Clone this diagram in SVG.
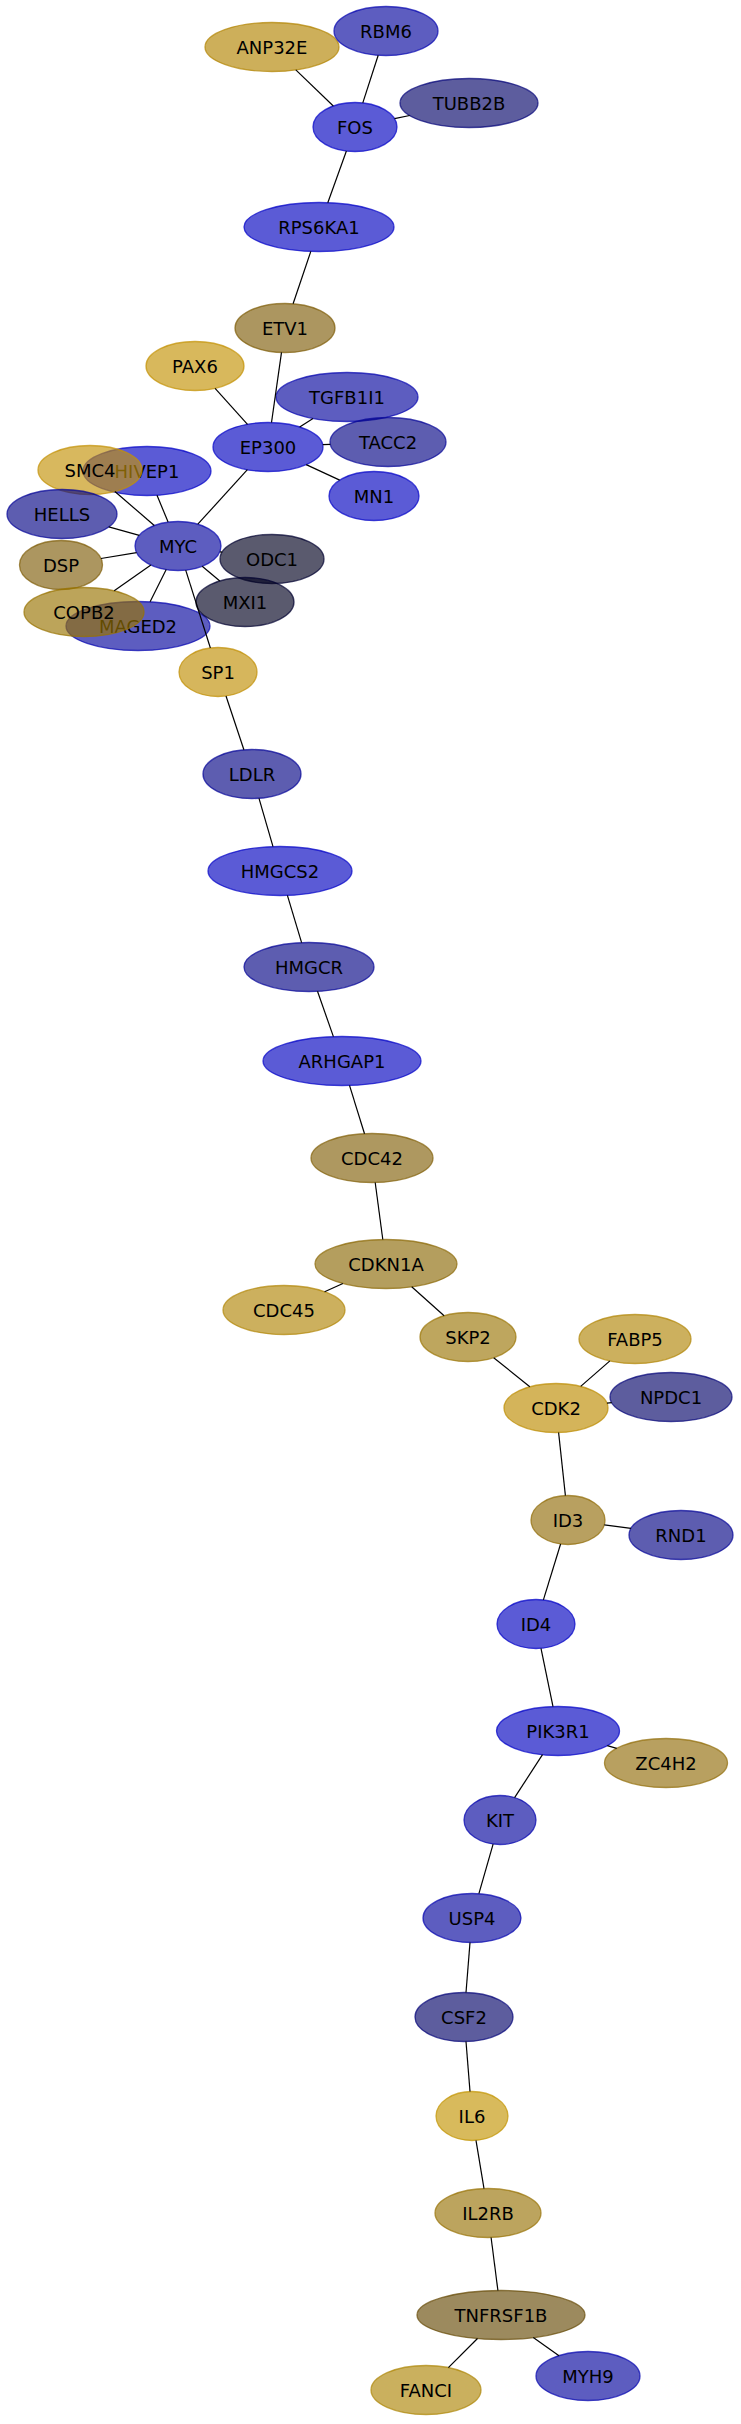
<svg xmlns="http://www.w3.org/2000/svg" width="741" height="2424" viewBox="0 0 741 2424">
<style>
ellipse { fill-opacity: 0.65; stroke-opacity: 0.72; stroke-width: 1.3; }
text { font-family: "DejaVu Sans", "Liberation Sans", sans-serif; font-size: 18px; text-anchor: middle; fill: #000; }
#edges line { stroke: #000; stroke-width: 1.2; }
.b1 { fill: #0303c0; stroke: #0303c8; }
.b2 { fill: #06069e; stroke: #0606b0; }
.b2b { fill: #060686; stroke: #060698; }
.b3 { fill: #06066a; stroke: #06067a; }
.gr { fill: #010120; stroke: #010130; }
</style>
<rect width="741" height="2424" fill="#fff"/>
<g id="ANP32E"><ellipse cx="272" cy="47" rx="67" ry="24.5" fill="#b28401" stroke="#b28401"/><text x="272" y="53.5">ANP32E</text></g>
<g id="RBM6"><ellipse class="b2" cx="386" cy="31" rx="52" ry="24.5"/><text x="386" y="37.5">RBM6</text></g>
<g id="TUBB2B"><ellipse class="b3" cx="469" cy="103" rx="69" ry="24.5"/><text x="469" y="109.5">TUBB2B</text></g>
<g id="FOS"><ellipse class="b1" cx="355" cy="127" rx="42" ry="24.5"/><text x="355" y="133.5">FOS</text></g>
<g id="RPS6KA1"><ellipse class="b1" cx="319" cy="227" rx="75" ry="24.5"/><text x="319" y="233.5">RPS6KA1</text></g>
<g id="ETV1"><ellipse cx="285" cy="328" rx="50" ry="24.5" fill="#7f5e0a" stroke="#7f5e0a"/><text x="285" y="334.5">ETV1</text></g>
<g id="PAX6"><ellipse cx="195" cy="366" rx="49" ry="24.5" fill="#c39204" stroke="#c39204"/><text x="195" y="372.5">PAX6</text></g>
<g id="TGFB1I1"><ellipse class="b2" cx="347" cy="397" rx="71" ry="24.5"/><text x="347" y="403.5">TGFB1I1</text></g>
<g id="EP300"><ellipse class="b1" cx="268" cy="447" rx="55" ry="24.5"/><text x="268" y="453.5">EP300</text></g>
<g id="TACC2"><ellipse class="b2b" cx="388" cy="442" rx="58" ry="24.5"/><text x="388" y="448.5">TACC2</text></g>
<g id="MN1"><ellipse class="b1" cx="374" cy="496" rx="45" ry="24.5"/><text x="374" y="502.5">MN1</text></g>
<g id="HIVEP1"><ellipse class="b1" cx="147" cy="471" rx="64" ry="24.5"/><text x="147" y="477.5">HIVEP1</text></g>
<g id="SMC4"><ellipse cx="90" cy="470" rx="52" ry="24.5" fill="#c39207" stroke="#c39207"/><text x="90" y="476.5">SMC4</text></g>
<g id="HELLS"><ellipse class="b2b" cx="62" cy="514" rx="55" ry="24.5"/><text x="62" y="520.5">HELLS</text></g>
<g id="MYC"><ellipse class="b2" cx="178" cy="546" rx="43" ry="24.5"/><text x="178" y="552.5">MYC</text></g>
<g id="DSP"><ellipse cx="61" cy="565" rx="41.5" ry="24.5" fill="#7f5e0a" stroke="#7f5e0a"/><text x="61" y="571.5">DSP</text></g>
<g id="ODC1"><ellipse class="gr" cx="272" cy="559" rx="52" ry="24.5"/><text x="272" y="565.5">ODC1</text></g>
<g id="MAGED2"><ellipse class="b2" cx="138" cy="626" rx="72" ry="24.5"/><text x="138" y="632.5">MAGED2</text></g>
<g id="COPB2"><ellipse cx="84" cy="612" rx="60" ry="24.5" fill="#987301" stroke="#987301"/><text x="84" y="618.5">COPB2</text></g>
<g id="MXI1"><ellipse class="gr" cx="245" cy="602" rx="49" ry="24.5"/><text x="245" y="608.5">MXI1</text></g>
<g id="SP1"><ellipse cx="218" cy="672" rx="39" ry="24.5" fill="#c08f04" stroke="#c08f04"/><text x="218" y="678.5">SP1</text></g>
<g id="LDLR"><ellipse class="b2b" cx="252" cy="774" rx="49" ry="24.5"/><text x="252" y="780.5">LDLR</text></g>
<g id="HMGCS2"><ellipse class="b1" cx="280" cy="871" rx="72" ry="24.5"/><text x="280" y="877.5">HMGCS2</text></g>
<g id="HMGCR"><ellipse class="b2b" cx="309" cy="967" rx="65" ry="24.5"/><text x="309" y="973.5">HMGCR</text></g>
<g id="ARHGAP1"><ellipse class="b1" cx="342" cy="1061" rx="79" ry="24.5"/><text x="342" y="1067.5">ARHGAP1</text></g>
<g id="CDC42"><ellipse cx="372" cy="1158" rx="61" ry="24.5" fill="#82610a" stroke="#82610a"/><text x="372" y="1164.5">CDC42</text></g>
<g id="CDKN1A"><ellipse cx="386" cy="1264" rx="71" ry="24.5" fill="#8c6a07" stroke="#8c6a07"/><text x="386" y="1270.5">CDKN1A</text></g>
<g id="CDC45"><ellipse cx="284" cy="1310" rx="61" ry="24.5" fill="#b18607" stroke="#b18607"/><text x="284" y="1316.5">CDC45</text></g>
<g id="SKP2"><ellipse cx="468" cy="1337" rx="48" ry="24.5" fill="#9b7607" stroke="#9b7607"/><text x="468" y="1343.5">SKP2</text></g>
<g id="FABP5"><ellipse cx="635" cy="1339" rx="56" ry="24.5" fill="#b18607" stroke="#b18607"/><text x="635" y="1345.5">FABP5</text></g>
<g id="CDK2"><ellipse cx="556" cy="1408" rx="52" ry="24.5" fill="#bd8c01" stroke="#bd8c01"/><text x="556" y="1414.5">CDK2</text></g>
<g id="NPDC1"><ellipse class="b3" cx="671" cy="1397" rx="61" ry="24.5"/><text x="671" y="1403.5">NPDC1</text></g>
<g id="ID3"><ellipse cx="568" cy="1520" rx="37" ry="24.5" fill="#926d0a" stroke="#926d0a"/><text x="568" y="1526.5">ID3</text></g>
<g id="RND1"><ellipse class="b2b" cx="681" cy="1535" rx="52" ry="24.5"/><text x="681" y="1541.5">RND1</text></g>
<g id="ID4"><ellipse class="b1" cx="536" cy="1624" rx="39" ry="24.5"/><text x="536" y="1630.5">ID4</text></g>
<g id="PIK3R1"><ellipse class="b1" cx="558" cy="1731" rx="61.5" ry="24.5"/><text x="558" y="1737.5">PIK3R1</text></g>
<g id="ZC4H2"><ellipse cx="666" cy="1763" rx="61.5" ry="24.5" fill="#926d0a" stroke="#926d0a"/><text x="666" y="1769.5">ZC4H2</text></g>
<g id="KIT"><ellipse class="b2" cx="500" cy="1820" rx="36" ry="24.5"/><text x="500" y="1826.5">KIT</text></g>
<g id="USP4"><ellipse class="b2" cx="472" cy="1918" rx="49" ry="24.5"/><text x="472" y="1924.5">USP4</text></g>
<g id="CSF2"><ellipse class="b3" cx="464" cy="2017" rx="49" ry="24.5"/><text x="464" y="2023.5">CSF2</text></g>
<g id="IL6"><ellipse cx="472" cy="2116" rx="36" ry="24.5" fill="#c39504" stroke="#c39504"/><text x="472" y="2122.5">IL6</text></g>
<g id="IL2RB"><ellipse cx="488" cy="2213" rx="53" ry="24.5" fill="#987307" stroke="#987307"/><text x="488" y="2219.5">IL2RB</text></g>
<g id="TNFRSF1B"><ellipse cx="501" cy="2315" rx="84" ry="24.5" fill="#674b07" stroke="#674b07"/><text x="501" y="2321.5">TNFRSF1B</text></g>
<g id="FANCI"><ellipse cx="426" cy="2390" rx="55" ry="24.5" fill="#ad8607" stroke="#ad8607"/><text x="426" y="2396.5">FANCI</text></g>
<g id="MYH9"><ellipse class="b2" cx="588" cy="2376" rx="52" ry="24.5"/><text x="588" y="2382.5">MYH9</text></g>
<g id="edges">
<line x1="295.8" y1="69.9" x2="333.3" y2="106.0"/>
<line x1="378.2" y1="55.2" x2="362.8" y2="102.9"/>
<line x1="409.7" y1="115.5" x2="394.5" y2="118.7"/>
<line x1="346.4" y1="151.0" x2="327.8" y2="202.7"/>
<line x1="310.8" y1="251.4" x2="293.1" y2="303.8"/>
<line x1="281.5" y1="352.4" x2="271.5" y2="422.5"/>
<line x1="215.1" y1="388.3" x2="247.5" y2="424.3"/>
<line x1="313.0" y1="418.5" x2="299.7" y2="427.0"/>
<line x1="330.3" y1="444.4" x2="322.8" y2="444.7"/>
<line x1="339.7" y1="480.1" x2="306.2" y2="464.6"/>
<line x1="247.4" y1="469.7" x2="197.8" y2="524.2"/>
<line x1="114.9" y1="491.5" x2="154.3" y2="525.5"/>
<line x1="157.0" y1="495.2" x2="168.1" y2="522.1"/>
<line x1="108.8" y1="526.9" x2="139.3" y2="535.3"/>
<line x1="101.0" y1="558.5" x2="136.6" y2="552.7"/>
<line x1="114.2" y1="590.8" x2="150.9" y2="565.0"/>
<line x1="150.1" y1="601.8" x2="166.2" y2="569.6"/>
<line x1="222.1" y1="552.1" x2="219.8" y2="551.8"/>
<line x1="219.8" y1="581.0" x2="202.2" y2="566.2"/>
<line x1="185.7" y1="570.1" x2="210.4" y2="648.0"/>
<line x1="226.0" y1="696.0" x2="243.9" y2="749.8"/>
<line x1="259.0" y1="798.3" x2="273.0" y2="846.6"/>
<line x1="287.4" y1="895.4" x2="301.6" y2="942.7"/>
<line x1="317.5" y1="991.3" x2="333.4" y2="1036.6"/>
<line x1="349.5" y1="1085.4" x2="364.5" y2="1133.7"/>
<line x1="375.2" y1="1182.5" x2="382.8" y2="1239.5"/>
<line x1="342.9" y1="1283.5" x2="324.6" y2="1291.7"/>
<line x1="411.7" y1="1286.8" x2="444.1" y2="1315.7"/>
<line x1="493.7" y1="1357.7" x2="529.8" y2="1386.8"/>
<line x1="580.7" y1="1386.4" x2="609.9" y2="1360.9"/>
<line x1="607.0" y1="1403.1" x2="611.7" y2="1402.7"/>
<line x1="558.6" y1="1432.5" x2="565.4" y2="1495.6"/>
<line x1="604.3" y1="1524.8" x2="631.0" y2="1528.4"/>
<line x1="560.6" y1="1544.0" x2="543.4" y2="1599.9"/>
<line x1="541.0" y1="1648.3" x2="553.0" y2="1706.6"/>
<line x1="607.3" y1="1745.6" x2="616.7" y2="1748.4"/>
<line x1="542.5" y1="1754.7" x2="514.6" y2="1797.6"/>
<line x1="493.1" y1="1844.1" x2="478.9" y2="1893.7"/>
<line x1="470.0" y1="1942.5" x2="466.0" y2="1992.5"/>
<line x1="466.0" y1="2041.5" x2="470.0" y2="2091.5"/>
<line x1="476.0" y1="2140.3" x2="484.0" y2="2188.6"/>
<line x1="491.1" y1="2237.5" x2="497.9" y2="2290.5"/>
<line x1="477.5" y1="2338.5" x2="448.4" y2="2367.6"/>
<line x1="533.3" y1="2337.6" x2="559.0" y2="2355.7"/>
</g>
</svg>
